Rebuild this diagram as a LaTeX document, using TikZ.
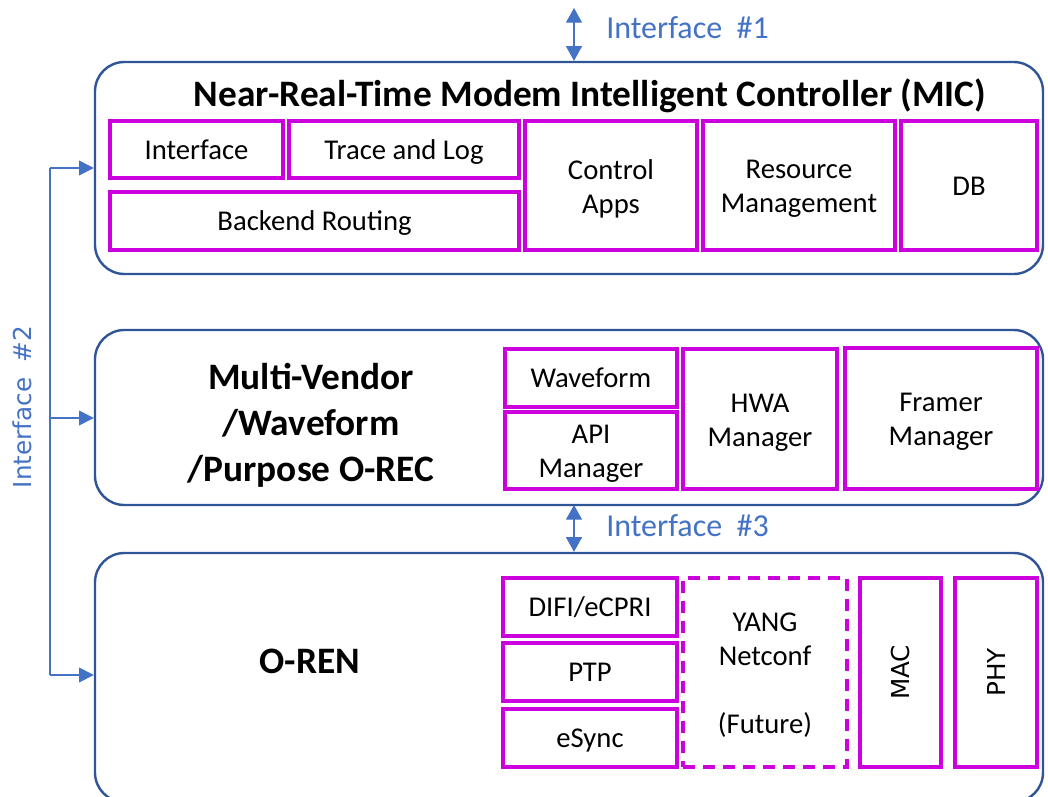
\documentclass[tikz,border=0pt]{standalone}
\usepackage{fontspec}
\setmainfont{Carlito}
\newfontfamily\dvs{DejaVu Sans}
\usetikzlibrary{fit,arrows.meta}
\definecolor{ob}{HTML}{2F5597}
\definecolor{mg}{HTML}{CC00DD}
\definecolor{ib}{HTML}{4472C4}
\newcommand\tstrut{\rule[-4.5pt]{0pt}{23.5pt}}
\begin{document}
\begin{tikzpicture}[x=0.75pt,y=-0.75pt,
  obox/.style={draw=ob,line width=1.8pt,rounded corners=22pt,inner sep=0pt},
  mbox/.style={draw=mg,line width=2.4pt,inner sep=0pt},
  dbox/.style={mbox,dash pattern=on 9pt off 6pt},
  txt/.style={align=center,inner sep=0pt,font=\fontsize{21.5}{25.5}\selectfont,
    execute at begin node=\tstrut,execute at end node=\tstrut},
  txtm/.style={txt,yshift=-3pt},
  ttl/.style={font=\fontsize{28}{34.5}\bfseries\selectfont,align=center,inner sep=0pt},
  ifl/.style={text=ib,font=\fontsize{24}{28}\selectfont,inner sep=0pt,anchor=west},
  rot/.style={rotate=90,font=\dvs\fontsize{18.5}{20}\selectfont,inner sep=0pt},
  barr/.style={draw=ib,line width=1.1pt,-{Triangle[length=11pt,width=11pt]}},
  darr/.style={draw=ib,line width=1pt,{Triangle[length=11pt,width=12pt]}-{Triangle[length=11pt,width=12pt]}}]
\useasboundingbox (0,0) rectangle (1048,796);

% outer boxes
\node[obox,fit={(95,62) (1043,274)}] (mic) {};
\node[obox,fit={(95,330) (1043,505)}] (orec) {};
\node[obox,fit={(95,553) (1043,802)}] (oren) {};

% titles
\node[ttl] (mictitle) at (590,96) {Near-Real-Time Modem Intelligent Controller (MIC)};
\node[ttl] (orectitle) at (311,425) {Multi-Vendor\\/Waveform\\/Purpose O-REC};
\node[ttl] (orentitle) at (310,661) {O-REN};

% MIC inner boxes
\node[mbox,fit={(110,121) (283,178)}] (iface) {};
\node[mbox,fit={(289,121) (519,178)}] (trace) {};
\node[mbox,fit={(110,192) (519,250)}] (backend) {};
\node[mbox,fit={(525,121) (697,250)}] (ctrl) {};
\node[mbox,fit={(703,121) (895,250)}] (res) {};
\node[mbox,fit={(901,121) (1037,250)}] (db) {};
\node[txt] (ifacet) at (iface.center) {Interface};
\node[txt] (tracet) at (trace.center) {Trace and Log};
\node[txt] (backendt) at (backend.center) {Backend Routing};
\node[txtm] (ctrlt) at (ctrl.center) {Control\\Apps};
\node[txtm] (rest) at (res.center) {Resource\\Management};
\node[txt] (dbt) at (db.center) {DB};

% O-REC inner boxes
\node[mbox,fit={(505,349) (677,407)}] (wave) {};
\node[mbox,fit={(505,412) (677,489)}] (api) {};
\node[mbox,fit={(683,349) (837,489)}] (hwa) {};
\node[mbox,fit={(845,348) (1037,489)}] (framer) {};
\node[txt] (wavet) at (wave.center) {Waveform};
\node[txtm] (apit) at (api.center) {API\\Manager};
\node[txtm] (hwat) at (hwa.center) {HWA\\Manager};
\node[txtm] (framert) at (framer.center) {Framer\\Manager};

% O-REN inner boxes
\node[mbox,fit={(503,578) (677,636)}] (difi) {};
\node[mbox,fit={(503,643) (677,701)}] (ptp) {};
\node[mbox,fit={(503,709) (677,767)}] (esync) {};
\node[dbox,fit={(683,578) (847,767)}] (yang) {};
\node[mbox,fit={(860,578) (941,767)}] (mac) {};
\node[mbox,fit={(955,578) (1037,767)}] (phy) {};
\node[txt] (difit) at (difi.center) {DIFI/eCPRI};
\node[txt] (ptpt) at (ptp.center) {PTP};
\node[txt] (esynct) at (esync.center) {eSync};
\node[txtm] (yangt) at (yang.center) {YANG\\Netconf\\\mbox{}\\(Future)};
\node[rot] (maclbl) at (mac.center) {MAC};
\node[rot] (phylbl) at (phy.center) {PHY};

% Interface #1
\coordinate (i1top) at (574,8);
\draw[darr] (i1top) -- (i1top |- mic.north);
\node[ifl] (if1) at (606,28) {Interface\ \ \#1};

% Interface #3
\coordinate (i3top) at (574,505);
\draw[darr] (i3top) -- (i3top |- oren.north);
\node[ifl] (if3) at (606,526) {Interface\ \ \#3};

% Interface #2
\coordinate (j1) at (50,168);
\coordinate (j2) at (50,418);
\coordinate (j3) at (50,675);
\draw[draw=ib,line width=1.1pt] (j1) -- (j3);
\draw[barr] (j1) -- (j1 -| mic.west);
\draw[barr] (j2) -- (j2 -| orec.west);
\draw[barr] (j3) -- (j3 -| oren.west);
\node[rot,text=ib] (if2) at (22,407) {Interface\ \ \#2};
\end{tikzpicture}
\end{document}
